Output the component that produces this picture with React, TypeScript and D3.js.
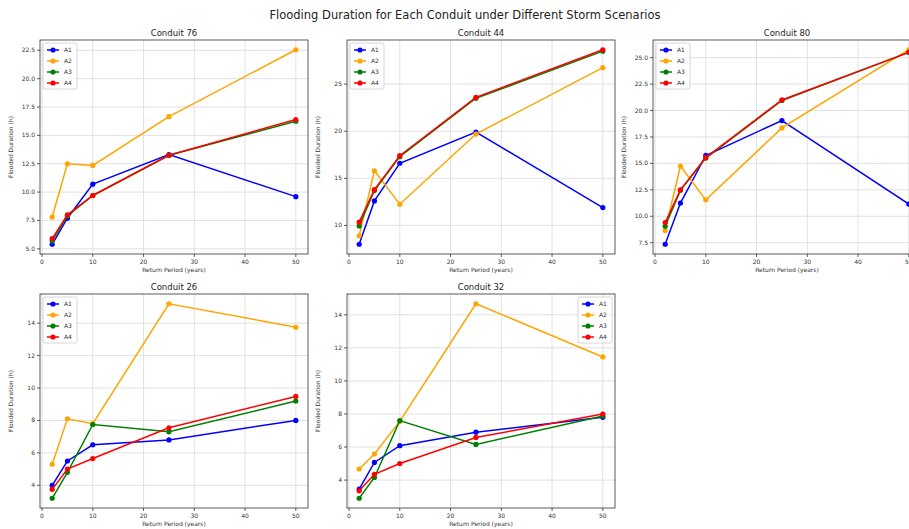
import React from "react";
import * as d3 from "d3";

const returnPeriods = [2, 5, 10, 25, 50];
const scenarios = ["A1", "A2", "A3", "A4"];
const scenarioColors = ["#0000ff", "#ffa500", "#008000", "#ff0000"];
const xTicks = [0, 10, 20, 30, 40, 50];

// flooded duration (h), one row per scenario A1..A4
const conduit76 = [
  [5.4, 7.7, 10.7, 13.3, 9.6],
  [7.8, 12.5, 12.35, 16.65, 22.55],
  [5.7, 7.9, 9.7, 13.25, 16.25],
  [5.9, 8.0, 9.7, 13.25, 16.4],
];
const conduit44 = [
  [8.0, 12.6, 16.6, 19.9, 11.9],
  [8.9, 15.8, 12.25, 19.7, 26.75],
  [9.95, 13.7, 17.3, 23.5, 28.5],
  [10.35, 13.8, 17.4, 23.6, 28.65],
];
const conduit80 = [
  [7.35, 11.25, 15.75, 19.05, 11.15],
  [8.65, 14.75, 11.55, 18.35, 25.75],
  [9.05, 12.45, 15.5, 20.95, 25.5],
  [9.4, 12.5, 15.55, 21.0, 25.5],
];
const conduit26 = [
  [4.0, 5.5, 6.5, 6.8, 8.0],
  [5.3, 8.1, 7.8, 15.2, 13.75],
  [3.2, 4.8, 7.75, 7.3, 9.2],
  [3.75, 5.0, 5.65, 7.55, 9.48],
];
const conduit32 = [
  [3.45, 5.07, 6.08, 6.9, 7.8],
  [4.67, 5.58, 7.55, 14.67, 11.45],
  [2.9, 4.16, 7.6, 6.16, 7.88],
  [3.35, 4.35, 5.0, 6.58, 8.0],
];

const yTicks76 = [5, 7.5, 10, 12.5, 15, 17.5, 20, 22.5];
const yTicks44 = [10, 15, 20, 25];
const yTicks80 = [7.5, 10, 12.5, 15, 17.5, 20, 22.5, 25];
const yTicks26 = [4, 6, 8, 10, 12, 14];
const yTicks32 = [4, 6, 8, 10, 12, 14];

const panels = [
  { title: "Conduit 76", data: conduit76, yTicks: yTicks76, fmt: ".1f", legendRight: false },
  { title: "Conduit 44", data: conduit44, yTicks: yTicks44, fmt: "d", legendRight: false },
  { title: "Conduit 80", data: conduit80, yTicks: yTicks80, fmt: ".1f", legendRight: false },
  { title: "Conduit 26", data: conduit26, yTicks: yTicks26, fmt: "d", legendRight: false },
  { title: "Conduit 32", data: conduit32, yTicks: yTicks32, fmt: "d", legendRight: true },
];

const FONT = "DejaVu Sans, sans-serif";
const colLeft = [40, 347, 653];
const plotW = 268;
const rowTop = [40, 294];
const plotH = 214;

function Panel({ p, x0, y0 }) {
  const all = p.data.flat();
  const lo = d3.min(all), hi = d3.max(all);
  const pad = (hi - lo) * 0.05;
  const x = d3.scaleLinear().domain([2 - 2.4, 50 + 2.4]).range([x0, x0 + plotW]);
  const y = d3.scaleLinear().domain([lo - pad, hi + pad]).range([y0 + plotH, y0]);
  const line = d3.line<number>().x((_, i) => x(returnPeriods[i])).y(d => y(d));
  const fmt = d3.format(p.fmt);
  const lw = 34, lh = 46;
  const lx = p.legendRight ? x0 + plotW - lw - 3 : x0 + 3;
  const ly = y0 + 3;

  return (
    <g>
      <rect x={x0} y={y0} width={plotW} height={plotH} fill="#fff" />
      {xTicks.map(t => (
        <line key={"gx" + t} x1={x(t)} x2={x(t)} y1={y0} y2={y0 + plotH} stroke="#d9d9d9" strokeWidth={0.8} />
      ))}
      {p.yTicks.map(t => (
        <line key={"gy" + t} x1={x0} x2={x0 + plotW} y1={y(t)} y2={y(t)} stroke="#d9d9d9" strokeWidth={0.8} />
      ))}
      {p.data.map((s, i) => (
        <g key={i}>
          <path d={line(s)} fill="none" stroke={scenarioColors[i]} strokeWidth={1.5} />
          {s.map((v, j) => (
            <circle key={j} cx={x(returnPeriods[j])} cy={y(v)} r={2.6} fill={scenarioColors[i]} />
          ))}
        </g>
      ))}
      <rect x={x0} y={y0} width={plotW} height={plotH} fill="none" stroke="#333" strokeWidth={0.8} />
      {xTicks.map(t => (
        <g key={"tx" + t}>
          <line x1={x(t)} x2={x(t)} y1={y0 + plotH} y2={y0 + plotH + 3} stroke="#333" strokeWidth={0.8} />
          <text x={x(t)} y={y0 + plotH + 10} textAnchor="middle" fontSize={6} fill="#333">{t}</text>
        </g>
      ))}
      {p.yTicks.map(t => (
        <g key={"ty" + t}>
          <line x1={x0 - 3} x2={x0} y1={y(t)} y2={y(t)} stroke="#333" strokeWidth={0.8} />
          <text x={x0 - 5} y={y(t) + 2} textAnchor="end" fontSize={6} fill="#333">{fmt(t)}</text>
        </g>
      ))}
      <text x={x0 + plotW / 2} y={y0 + plotH + 18} textAnchor="middle" fontSize={6} fill="#333">Return Period (years)</text>
      <text transform={`translate(${x0 - 27},${y0 + plotH / 2}) rotate(-90)`} textAnchor="middle" fontSize={6} fill="#333">Flooded Duration (h)</text>
      <text x={x0 + plotW / 2} y={y0 - 4} textAnchor="middle" fontSize={8.5} fill="#222">{p.title}</text>
      <rect x={lx} y={ly} width={lw} height={lh} rx={2} fill="#fff" fillOpacity={0.8} stroke="#ccc" strokeWidth={0.8} />
      {scenarios.map((name, i) => {
        const cy = ly + 7 + i * 11;
        return (
          <g key={name}>
            <line x1={lx + 4} x2={lx + 16} y1={cy} y2={cy} stroke={scenarioColors[i]} strokeWidth={1.5} />
            <circle cx={lx + 10} cy={cy} r={2.6} fill={scenarioColors[i]} />
            <text x={lx + 21} y={cy + 2.2} fontSize={6} fill="#333">{name}</text>
          </g>
        );
      })}
    </g>
  );
}

export default function App() {
  return (
    <svg width={909} height={529} style={{ position: "absolute", left: 0, top: 0, background: "#fff", fontFamily: FONT }}>
      <rect width={909} height={529} fill="#fff" />
      <text x={465} y={19} textAnchor="middle" fontSize={11.5} fill="#222">
        Flooding Duration for Each Conduit under Different Storm Scenarios
      </text>
      {panels.map((p, i) => (
        <Panel key={p.title} p={p} x0={colLeft[i % 3]} y0={rowTop[Math.floor(i / 3)]} />
      ))}
    </svg>
  );
}
